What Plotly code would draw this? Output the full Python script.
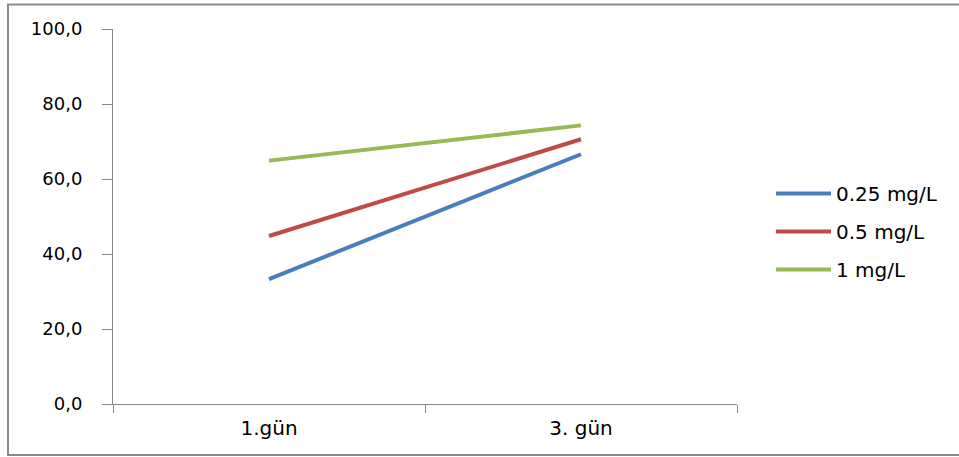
import plotly.graph_objects as go

categories = ["1.gün", "3. gün"]
series_names = ["0.25 mg/L", "0.5 mg/L", "1 mg/L"]
s_025 = [33.3, 66.6]
s_05 = [44.8, 70.6]
s_1 = [64.9, 74.3]
y_ticks = [0, 20, 40, 60, 80, 100]

colors = ["#4A7EBB", "#BE4B48", "#98B954"]

fig = go.Figure()
for i, (name, vals) in enumerate(zip(series_names, [s_025, s_05, s_1])):
    fig.add_trace(go.Scatter(
        x=categories, y=vals, name=name, mode="lines",
        line=dict(color=colors[i], width=4),
        legendgroup=f"g{i}",
    ))

L, R, T, B = 113, 222, 29, 53
W, H = 959, 457
pw, ph = W - L - R, H - T - B

def px(x):
    return (x - L) / pw

def py(y):
    return (H - B - y) / ph

fig.update_layout(
    width=W, height=H,
    margin=dict(l=L, r=R, t=T, b=B),
    paper_bgcolor="white", plot_bgcolor="white",
    separators=",.",
    showlegend=True,
    legend=dict(
        x=px(771), y=py(174), xanchor="left", yanchor="top",
        font=dict(family="DejaVu Sans", size=20, color="#000000"),
        itemwidth=55, tracegroupgap=9,
        bgcolor="rgba(0,0,0,0)",
    ),
    xaxis=dict(
        type="category", range=[-0.5, 1.5],
        showline=True, linecolor="#868686", linewidth=1,
        ticks="outside", tickson="boundaries", ticklen=8, tickcolor="#868686",
        showgrid=False, zeroline=False,
        tickfont=dict(family="DejaVu Sans", size=20, color="#000000"),
        ticklabelstandoff=6,
    ),
    yaxis=dict(
        range=[0, 100], tickvals=y_ticks, tickformat=".1f",
        showline=True, linecolor="#868686", linewidth=1,
        ticks="outside", ticklen=10, tickcolor="#868686",
        showgrid=False, zeroline=False,
        tickfont=dict(family="DejaVu Sans", size=18, color="#000000"),
        ticklabelstandoff=16,
    ),
    shapes=[dict(
        type="rect", xref="paper", yref="paper",
        x0=px(8), x1=px(975), y0=py(455), y1=py(4.5),
        line=dict(color="#8A8A8A", width=2), fillcolor="rgba(0,0,0,0)", layer="below",
    )],
)

fig.write_html(
    "out.html",
    config={"displayModeBar": False},
    post_script="document.body.style.margin='0';document.body.style.overflow='hidden';",
)
